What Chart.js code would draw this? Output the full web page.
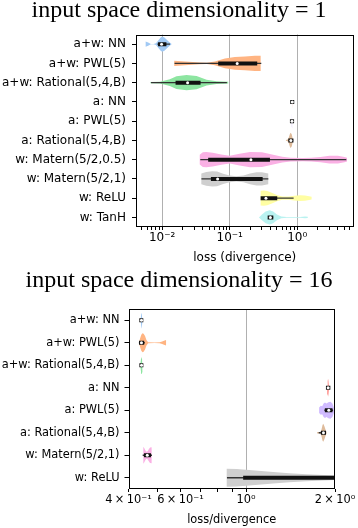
<!DOCTYPE html>
<html><head><meta charset="utf-8">
<script src="https://cdn.jsdelivr.net/npm/chart.js@4.4.1/dist/chart.umd.min.js"></script>
<style>
html,body{margin:0;padding:0;background:#fff;}
#c1{position:absolute;left:0;top:0;}
#c2{position:absolute;left:0;top:270px;}
</style></head><body>
<canvas id="c1" width="358" height="270"></canvas>
<canvas id="c2" width="358" height="258"></canvas>
<script>
// ===== Panel 1: input space dimensionality = 1 =====
const modelsTop = ['a+w: NN','a+w: PWL(5)','a+w: Rational(5,4,B)','a: NN','a: PWL(5)','a: Rational(5,4,B)','w: Matern(5/2,0.5)','w: Matern(5/2,1)','w: ReLU','w: TanH'];
const whiskerLowTop  = [0.0087, 0.0156, 0.0070, 0.839, 0.832, 0.76, 0.0375, 0.039, 0.297, 0.38];
const q1Top          = [0.0093, 0.0723, 0.0169, 0.842, 0.834, 0.79, 0.0514, 0.0564, 0.307, 0.39];
const medianTop      = [0.0098, 0.129, 0.0238, 0.844, 0.836, 0.805, 0.206, 0.0662, 0.344, 0.40];
const q3Top          = [0.0108, 0.2386, 0.0346, 0.846, 0.838, 0.82, 0.368, 0.287, 0.472, 0.413];
const whiskerHighTop = [0.0128, 0.287, 0.0889, 0.849, 0.841, 0.85, 5.2, 0.365, 0.864, 0.43];
// density profiles: [loss value, half width in category units]
const densityTop = [
  [[0.0057,0.14],[0.0062,0.08],[0.0068,0.01],[0.0075,0.01],[0.0081,0.04],[0.0088,0.2],[0.0095,0.34],[0.0100,0.39],[0.0108,0.34],[0.0118,0.22],[0.0128,0.1],[0.0137,0.02]],
  [[0.0151,0.14],[0.0217,0.10],[0.0362,0.05],[0.0459,0.03],[0.0604,0.10],[0.0849,0.25],[0.119,0.33],[0.168,0.36],[0.236,0.40],[0.287,0.39]],
  [[0.0067,0.03],[0.0093,0.04],[0.013,0.18],[0.0163,0.33],[0.023,0.40],[0.0323,0.34],[0.0455,0.15],[0.064,0.07],[0.095,0.04]],
  [[0.836,0.05],[0.840,0.30],[0.844,0.38],[0.848,0.30],[0.852,0.05]],
  [[0.830,0.05],[0.833,0.30],[0.836,0.39],[0.839,0.30],[0.843,0.05]],
  [[0.68,0.02],[0.72,0.05],[0.75,0.15],[0.78,0.35],[0.80,0.40],[0.83,0.30],[0.855,0.10]],
  [[0.036,0.25],[0.040,0.38],[0.045,0.40],[0.056,0.36],[0.075,0.26],[0.10,0.20],[0.14,0.30],[0.20,0.40],[0.30,0.38],[0.44,0.25],[0.60,0.15],[0.80,0.10],[1.2,0.09],[1.6,0.10],[2.2,0.14],[3.0,0.20],[4.0,0.20],[5.0,0.14],[5.45,0.10]],
  [[0.038,0.28],[0.045,0.36],[0.055,0.40],[0.065,0.38],[0.08,0.26],[0.10,0.17],[0.125,0.14],[0.16,0.18],[0.20,0.28],[0.25,0.34],[0.30,0.34],[0.372,0.28]],
  [[0.287,0.38],[0.32,0.40],[0.36,0.37],[0.42,0.28],[0.50,0.16],[0.60,0.08],[0.75,0.08],[0.90,0.12],[1.1,0.15],[1.3,0.14],[1.5,0.10],[1.63,0.07]],
  [[0.271,0.0],[0.30,0.15],[0.34,0.30],[0.39,0.37],[0.44,0.30],[0.50,0.15],[0.58,0.05],[0.70,0.02],[0.90,0.015],[1.1,0.02],[1.3,0.04],[1.43,0.03]]
];
const xTicksTop = [0.005,0.006,0.007,0.008,0.009,0.01,0.02,0.03,0.04,0.05,0.06,0.07,0.08,0.09,0.1,0.2,0.3,0.4,0.5,0.6,0.7,0.8,0.9,1,2,3,4,5,6];
const xLabelValuesTop = [0.01, 0.1, 1];
const xLabelTextsTop = ['10\u207B\u00B2', '10\u207B\u00B9', '10\u2070'];
const xGridValuesTop = [0.01, 0.1, 1];

// ===== Panel 2: input space dimensionality = 16 =====
const modelsBottom = ['a+w: NN','a+w: PWL(5)','a+w: Rational(5,4,B)','a: NN','a: PWL(5)','a: Rational(5,4,B)','w: Matern(5/2,1)','w: ReLU'];
const whiskerLowBottom  = [0.4410, 0.436, 0.4410, 1.890, 1.850, 1.77, 0.449, 0.866];
const q1Bottom          = [0.4420, 0.441, 0.4422, 1.893, 1.877, 1.82, 0.4583, 0.993];
const medianBottom      = [0.4426, 0.4425, 0.4428, 1.896, 1.905, 1.828, 0.463, 2.2];
const q3Bottom          = [0.4432, 0.445, 0.4434, 1.899, 1.931, 1.836, 0.4692, 2.6];
const whiskerHighBottom = [0.4440, 0.452, 0.4445, 1.903, 1.960, 1.85, 0.478, 3.5];
const densityBottom = [
  [[0.4400,0.05],[0.4415,0.30],[0.4428,0.38],[0.4440,0.30],[0.4455,0.05]],
  [[0.435,0.05],[0.438,0.20],[0.442,0.36],[0.446,0.42],[0.450,0.40],[0.455,0.30],[0.460,0.12],[0.466,0.02],[0.490,0.01],[0.510,0.02],[0.520,0.06],[0.530,0.10],[0.536,0.12]],
  [[0.439,0.05],[0.441,0.30],[0.4428,0.39],[0.4445,0.30],[0.4465,0.05]],
  [[1.880,0.05],[1.888,0.30],[1.895,0.40],[1.902,0.30],[1.910,0.05]],
  [[1.767,0.12],[1.79,0.20],[1.81,0.18],[1.83,0.30],[1.85,0.34],[1.87,0.30],[1.90,0.36],[1.93,0.38],[1.96,0.30],[1.982,0.12]],
  [[1.74,0.03],[1.77,0.03],[1.79,0.05],[1.80,0.15],[1.815,0.35],[1.825,0.40],[1.84,0.30],[1.86,0.12],[1.872,0.03]],
  [[0.449,0.38],[0.452,0.32],[0.456,0.22],[0.460,0.16],[0.464,0.18],[0.468,0.26],[0.473,0.34],[0.479,0.36]],
  [[0.86,0.40],[0.93,0.39],[1.0,0.36],[1.1,0.31],[1.235,0.26],[1.4,0.20],[1.6,0.16],[2.0,0.10],[2.4,0.07],[3.0,0.04],[3.5,0.01]]
];
const xTicksBottom = [0.4,0.5,0.6,0.7,0.8,0.9,1,2];
const xLabelValuesBottom = [0.4, 0.6, 1, 2];
const xLabelTextsBottom = ['4\u2009\u00D7\u200910\u207B\u00B9', '6\u2009\u00D7\u200910\u207B\u00B9', '10\u2070', '2\u2009\u00D7\u200910\u2070'];
const xGridValuesBottom = [1];

// ===== styles =====
const palette = ['#a1c9f4','#ffb482','#8de5a1','#ff9f9b','#d0bbff','#debb9b','#fab0e4','#cfcfcf','#fffea3','#b9f2f0'];
const near = (a, b) => Math.abs(Math.log10(a) - Math.log10(b)) < 1e-6;

function buildDatasets(density, wLo, q1, med, q3, wHi) {
  const ds = [];
  density.forEach((shape, i) => {
    const upper = shape.map(p => ({x: p[0], y: i - p[1]}));
    const lower = shape.slice().reverse().map(p => ({x: p[0], y: i + p[1]}));
    ds.push({type: 'line', data: upper.concat(lower), fill: 'shape', backgroundColor: palette[i],
      borderColor: 'rgba(0,0,0,0)', borderWidth: 0, pointRadius: 0, tension: 0, order: 3, clip: 0});
    ds.push({type: 'line', data: [{x: wLo[i], y: i}, {x: wHi[i], y: i}], borderColor: '#333',
      borderWidth: 1.3, borderCapStyle: 'square', pointRadius: 0, fill: false, order: 2, clip: 0});
    ds.push({type: 'line', data: [{x: q1[i], y: i}, {x: q3[i], y: i}], borderColor: '#111',
      borderWidth: 4, borderCapStyle: 'square', pointRadius: 0, fill: false, order: 1, clip: 0});
  });
  ds.push({type: 'line', showLine: false, data: med.map((m, i) => ({x: m, y: i})), pointRadius: 1.5,
    pointBackgroundColor: '#fff', pointBorderWidth: 0, order: 0, clip: 0});
  return ds;
}

const framePlugin = {
  id: 'frame',
  afterDatasetsDraw(chart) {
    const {ctx, chartArea: a} = chart;
    ctx.save();
    ctx.strokeStyle = '#000';
    ctx.lineWidth = 1;
    const l = Math.round(a.left) + 0.5, t = Math.round(a.top) + 0.5;
    const r = Math.round(a.right) - 0.5, b = Math.round(a.bottom) - 0.5;
    ctx.strokeRect(l, t, r - l, b - t);
    ctx.restore();
  }
};

function makeChart(canvasId, cfg) {
  const n = cfg.models.length;
  const font = {family: 'DejaVu Sans', size: cfg.fontSize};
  return new Chart(document.getElementById(canvasId), {
    type: 'line',
    data: {datasets: buildDatasets(cfg.density, cfg.wLo, cfg.q1, cfg.med, cfg.q3, cfg.wHi)},
    plugins: [framePlugin],
    options: {
      responsive: false, animation: false, events: [],
      layout: {padding: 0},
      plugins: {
        legend: {display: false}, tooltip: {enabled: false},
        title: {display: true, text: cfg.title, color: '#000',
          font: {family: 'Liberation Serif', size: 24, weight: 'normal', lineHeight: 0.8},
          padding: {top: 1.1, bottom: cfg.titleGap}}
      },
      scales: {
        x: {
          type: 'logarithmic', min: cfg.xmin, max: cfg.xmax,
          afterBuildTicks: s => { s.ticks = cfg.xTicks.map(v => ({value: v})); },
          afterFit: s => { s.height = cfg.xHeight; },
          border: {display: false},
          grid: {
            color: c => (c.tick && cfg.xGrid.some(g => near(g, c.tick.value))) ? '#b0b0b0' : 'rgba(0,0,0,0)',
            lineWidth: 1, tickColor: '#000', tickWidth: 1, tickLength: 3, drawTicks: true
          },
          ticks: {
            autoSkip: false, maxRotation: 0, minRotation: 0, padding: cfg.xTickPad, color: '#000', font: font,
            callback: v => { const k = cfg.xLabVals.findIndex(g => near(g, v)); return k >= 0 ? cfg.xLabTexts[k] : ''; }
          },
          title: {display: true, text: cfg.xTitle, color: '#000', font: font, padding: {top: 0, bottom: cfg.xTitlePad}}
        },
        y: {
          type: 'linear', reverse: true, min: -0.5, max: n - 0.5,
          afterBuildTicks: s => { s.ticks = cfg.models.map((_, i) => ({value: i})); },
          afterFit: s => { s.width = cfg.yWidth; },
          border: {display: false},
          grid: {drawOnChartArea: false, drawTicks: true, tickLength: 4, tickColor: '#000', tickWidth: 1},
          ticks: {autoSkip: false, padding: cfg.yTickPad, color: '#000', font: font, callback: v => cfg.models[v]}
        },
        yRightMargin: {
          type: 'linear', position: 'right', display: true,
          afterBuildTicks: s => { s.ticks = []; },
          afterFit: s => { s.width = cfg.padRight; },
          grid: {display: false}, ticks: {display: false}, border: {display: false}
        }
      }
    }
  });
}

makeChart('c1', {
  title: 'input space dimensionality = 1', models: modelsTop, density: densityTop,
  wLo: whiskerLowTop, q1: q1Top, med: medianTop, q3: q3Top, wHi: whiskerHighTop,
  xmin: 0.0041, xmax: 6.8, xTicks: xTicksTop, xLabVals: xLabelValuesTop, xLabTexts: xLabelTextsTop, xGrid: xGridValuesTop,
  xTitle: 'loss (divergence)', titleGap: 14.2, padRight: 4.5, yWidth: 136, xHeight: 43, xTickPad: 1, xTitlePad: 5.2,
  fontSize: 12, yTickPad: 6
});
makeChart('c2', {
  title: 'input space dimensionality = 16', models: modelsBottom, density: densityBottom,
  wLo: whiskerLowBottom, q1: q1Bottom, med: medianBottom, q3: q3Bottom, wHi: whiskerHighBottom,
  xmin: 0.4, xmax: 2.0, xTicks: xTicksBottom, xLabVals: xLabelValuesBottom, xLabTexts: xLabelTextsBottom, xGrid: xGridValuesBottom,
  xTitle: 'loss/divergence', titleGap: 18.7, padRight: 23, yWidth: 128.5, xHeight: 39, xTickPad: 1, xTitlePad: 0.8,
  fontSize: 11.4, yTickPad: 5
});
</script>
</body></html>
